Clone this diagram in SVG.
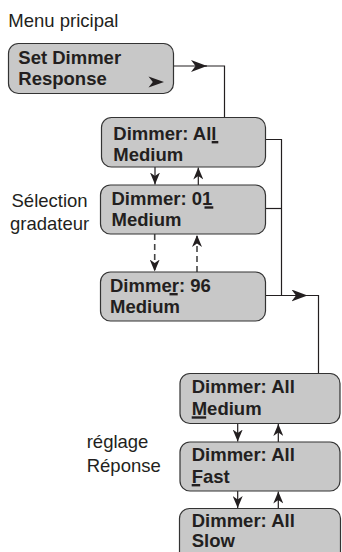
<svg xmlns="http://www.w3.org/2000/svg" width="342" height="552" viewBox="0 0 342 552">
<defs>
<style>
.box{fill:#c8c8c8;stroke:#333;stroke-width:1.2}
.bt{font-family:"Liberation Sans",Arial,sans-serif;font-weight:bold;font-size:18.5px;fill:#231f20}
.lb{font-family:"Liberation Sans",Arial,sans-serif;font-size:18.5px;fill:#231f20}
.ul{fill:#231f20}
.ln{fill:none;stroke:#231f20;stroke-width:1.2}
.dl{fill:none;stroke:#444;stroke-width:1.6;stroke-dasharray:6 4}
.ah{fill:#231f20}
</style>
<marker id="ahH" markerUnits="userSpaceOnUse" viewBox="0 0 16 12" refX="16" refY="6" markerWidth="16" markerHeight="12" orient="auto">
<path d="M16,6 L0,0 L4.5,6 L0,12 Z" class="ah"/>
</marker>
<marker id="ahV" markerUnits="userSpaceOnUse" viewBox="0 0 12 10" refX="12" refY="5" markerWidth="12" markerHeight="10" orient="auto">
<path d="M12,5 L0,0 L3.5,5 L0,10 Z" class="ah"/>
</marker>
</defs>
<rect width="342" height="552" fill="#fff"/>

<g id="labels">
<text class="lb" x="8.3" y="27.3">Menu pricipal</text>
<text class="lb" x="11.5" y="206.7">Sélection</text>
<text class="lb" x="10" y="230">gradateur</text>
<text class="lb" x="86.7" y="448.3">réglage</text>
<text class="lb" x="86.7" y="471.5">Réponse</text>
</g>

<g id="connectors">
<path class="ln" d="M173.5 66 H207" marker-end="url(#ahH)"/>
<path class="ln" d="M205 66 H224.5 V117.5"/>
<path class="ln" d="M265.5 139.5 H281.5 V295.5"/>
<path class="ln" d="M265.5 208.5 H281.5"/>
<path class="ln" d="M265.5 295.5 H307.5" marker-end="url(#ahH)"/>
<path class="ln" d="M305 295.5 H318.5 V373.5"/>
<path class="ln" d="M155 167 V184.5" marker-end="url(#ahV)"/>
<path class="ln" d="M198.3 185 V167.5" marker-end="url(#ahV)"/>
<path class="dl" d="M154.7 234 V271.5" marker-end="url(#ahV)"/>
<path class="dl" d="M197 272 V235" marker-end="url(#ahV)"/>
<path class="ln" d="M237.7 423.5 V441.5" marker-end="url(#ahV)"/>
<path class="ln" d="M278.3 442 V424" marker-end="url(#ahV)"/>
<path class="ln" d="M237.7 491 V508" marker-end="url(#ahV)"/>
<path class="ln" d="M278.3 508.5 V491.5" marker-end="url(#ahV)"/>
</g>

<g id="node-set-dimmer-response">
<rect class="box" x="8.5" y="43.5" width="165" height="50" rx="10"/>
<text class="bt" x="18.3" y="63.5">Set Dimmer</text>
<text class="bt" x="18.3" y="85.3">Response</text>
<path class="ah" d="M164,82 L148.5,76.5 L152.8,82 L148.5,87.5 Z"/>
</g>

<g id="node-dimmer-all-medium">
<rect class="box" x="101.5" y="117.5" width="164" height="49.5" rx="10"/>
<text class="bt" x="113.3" y="139.7">Dimmer: All</text>
<text class="bt" x="113.3" y="160.5">Medium</text>
<rect class="ul" x="211.7" y="141" width="6.6" height="2.4"/>
</g>

<g id="node-dimmer-01">
<rect class="box" x="100.5" y="185" width="165" height="49" rx="10"/>
<text class="bt" x="111.5" y="205">Dimmer: 01</text>
<text class="bt" x="111.5" y="226">Medium</text>
<rect class="ul" x="204.5" y="206.3" width="8.8" height="2.4"/>
</g>

<g id="node-dimmer-96">
<rect class="box" x="100.5" y="272" width="165" height="49" rx="10"/>
<text class="bt" x="110" y="291.7">Dimmer: 96</text>
<text class="bt" x="110" y="312.7">Medium</text>
<rect class="ul" x="169.5" y="293" width="8.2" height="2.4"/>
</g>

<g id="node-medium">
<rect class="box" x="180" y="373.5" width="160" height="50" rx="10"/>
<text class="bt" x="191.7" y="393.3">Dimmer: All</text>
<text class="bt" x="191.7" y="415">Medium</text>
<rect class="ul" x="191.7" y="416.3" width="14.5" height="2.4"/>
</g>

<g id="node-fast">
<rect class="box" x="180" y="442" width="160" height="49" rx="10"/>
<text class="bt" x="191.7" y="461">Dimmer: All</text>
<text class="bt" x="191.7" y="482.7">Fast</text>
<rect class="ul" x="191.7" y="484" width="8.5" height="2.4"/>
</g>

<g id="node-slow">
<rect class="box" x="179.5" y="508.5" width="161" height="60" rx="10"/>
<text class="bt" x="191.7" y="526.7">Dimmer: All</text>
<text class="bt" x="191.7" y="546.7">Slow</text>
</g>
</svg>
